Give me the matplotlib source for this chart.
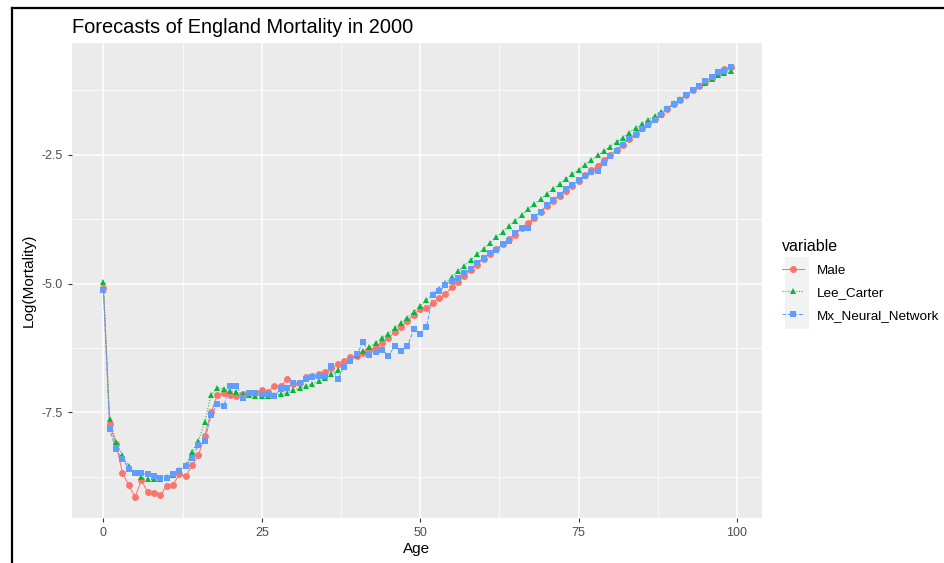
import numpy as np
import matplotlib
matplotlib.use('Agg')
import matplotlib.pyplot as plt
from matplotlib.lines import Line2D
from matplotlib.patches import Rectangle

plt.rcParams['font.family'] = ['Liberation Sans', 'DejaVu Sans']

# 나이 0~99
ages = np.arange(0, 100)

male = [
    -5.08, -7.73, -8.12, -8.67, -8.91, -9.14, -8.82, -9.05, -9.06, -9.11,
    -8.92, -8.90, -8.70, -8.74, -8.53, -8.33, -7.95, -7.50, -7.16, -7.12,
    -7.16, -7.18, -7.15, -7.13, -7.12, -7.07, -7.10, -6.98, -6.99, -6.86,
    -6.95, -6.93, -6.82, -6.80, -6.76, -6.72, -6.64, -6.56, -6.50, -6.42,
    -6.40, -6.34, -6.29, -6.23, -6.15, -6.05, -5.94, -5.84, -5.73, -5.60,
    -5.49, -5.47, -5.37, -5.28, -5.21, -5.06, -4.96, -4.86, -4.73, -4.63,
    -4.52, -4.42, -4.33, -4.24, -4.13, -4.05, -3.93, -3.82, -3.72, -3.61,
    -3.50, -3.40, -3.30, -3.20, -3.10, -3.00, -2.90, -2.80, -2.72, -2.60,
    -2.50, -2.40, -2.30, -2.19, -2.09, -1.98, -1.89, -1.80, -1.71, -1.61,
    -1.51, -1.43, -1.34, -1.25, -1.17, -1.08, -1.00, -0.92, -0.83, -0.79,
]

lee_carter = [
    -4.97, -7.63, -8.07, -8.33, -8.55, -8.68, -8.75, -8.80, -8.80, -8.80,
    -8.76, -8.72, -8.62, -8.52, -8.27, -8.05, -7.68, -7.16, -7.02, -7.05,
    -7.08, -7.11, -7.14, -7.17, -7.18, -7.18, -7.18, -7.17, -7.14, -7.12,
    -7.07, -7.03, -6.99, -6.94, -6.89, -6.83, -6.76, -6.68, -6.59, -6.49,
    -6.39, -6.31, -6.23, -6.15, -6.06, -5.97, -5.87, -5.77, -5.66, -5.55,
    -5.44, -5.32, -5.21, -5.10, -4.99, -4.87, -4.76, -4.65, -4.54, -4.43,
    -4.32, -4.21, -4.10, -4.00, -3.89, -3.78, -3.67, -3.56, -3.46, -3.36,
    -3.26, -3.16, -3.06, -2.97, -2.88, -2.79, -2.69, -2.61, -2.51, -2.43,
    -2.34, -2.25, -2.17, -2.07, -1.98, -1.91, -1.82, -1.75, -1.66, -1.59,
    -1.50, -1.42, -1.34, -1.25, -1.17, -1.10, -1.02, -0.96, -0.92, -0.88,
]

neural_net = [
    -5.12, -7.83, -8.22, -8.40, -8.59, -8.67, -8.68, -8.70, -8.74, -8.78,
    -8.78, -8.70, -8.64, -8.55, -8.38, -8.14, -8.05, -7.55, -7.34, -7.37,
    -6.98, -6.98, -7.22, -7.12, -7.12, -7.15, -7.15, -7.18, -7.04, -7.03,
    -6.93, -6.92, -6.86, -6.82, -6.80, -6.79, -6.60, -6.86, -6.61, -6.50,
    -6.37, -6.14, -6.38, -6.33, -6.28, -6.40, -6.21, -6.31, -6.21, -5.89,
    -5.97, -5.84, -5.23, -5.15, -5.03, -4.94, -4.89, -4.80, -4.71, -4.60,
    -4.50, -4.40, -4.35, -4.24, -4.17, -4.02, -3.93, -3.92, -3.71, -3.61,
    -3.48, -3.38, -3.28, -3.16, -3.08, -2.99, -2.91, -2.83, -2.81, -2.66,
    -2.53, -2.42, -2.30, -2.19, -2.11, -2.00, -1.93, -1.83, -1.73, -1.61,
    -1.51, -1.43, -1.34, -1.25, -1.17, -1.07, -0.98, -0.90, -0.87, -0.80,
]

series_names = ['Male', 'Lee_Carter', 'Mx_Neural_Network']
series = [male, lee_carter, neural_net]
colors = ['#F8766D', '#00BA38', '#619CFF']
styles = ['-', ':', '--']
markers = ['o', '^', 's']

fig = plt.figure(figsize=(9.45, 5.63), dpi=100)
ax = fig.add_axes([0.0762, 0.0799, 0.7301, 0.8437])

# ggplot 회색 테마 흉내
ax.set_facecolor('#EBEBEB')
for s in ax.spines.values():
    s.set_visible(False)
ax.set_xlim(-4.95, 103.95)
ax.set_ylim(-9.55, -0.33)
ax.set_xticks([0, 25, 50, 75, 100])
ax.set_yticks([-7.5, -5.0, -2.5])
ax.set_yticklabels(['-7.5', '-5.0', '-2.5'])
ax.set_xticks([12.5, 37.5, 62.5, 87.5], minor=True)
ax.set_yticks([-8.75, -6.25, -3.75, -1.25], minor=True)
ax.grid(which='major', color='white', linewidth=1.1)
ax.grid(which='minor', color='white', linewidth=0.55)
ax.set_axisbelow(True)
ax.tick_params(which='major', length=3, color='#333333', labelcolor='#4D4D4D', labelsize=9)
ax.tick_params(which='minor', length=0)

# 선 먼저, 점은 나중에
for vals, c, ls in zip(series, colors, styles):
    ax.plot(ages, vals, color=c, linestyle=ls, linewidth=0.75, zorder=2)
for vals, c, m in zip(series, colors, markers):
    ax.plot(ages, vals, color=c, linestyle='none', marker=m, markersize=5,
            markeredgewidth=0, zorder=3)

ax.set_xlabel('Age', fontsize=11, color='black', labelpad=2)
ax.set_ylabel('Log(Mortality)', fontsize=11, color='black', labelpad=4)
fig.text(0.0762, 0.942, 'Forecasts of England Mortality in 2000', fontsize=14.4,
         color='black', va='baseline', ha='left')

# 범례
handles = [Line2D([0], [0], color=c, linestyle=ls, marker=m, markersize=5,
                  markeredgewidth=0, linewidth=0.75)
           for c, ls, m in zip(colors, styles, markers)]
fig.patches.append(Rectangle((785 / 945, 1 - 329 / 563), 24 / 945, 72 / 563,
                             transform=fig.transFigure, facecolor='#F2F2F2',
                             edgecolor='none', zorder=0))
leg = fig.legend(handles, series_names, title='variable', loc='upper left',
                 bbox_to_anchor=(770 / 945, 1 - 227 / 563), frameon=False,
                 fontsize=9.7, title_fontsize=11.5, handlelength=1.6,
                 handletextpad=1.0, labelspacing=0.75, alignment='left')

# 스크린샷 테두리
fig.add_artist(Line2D([12 / 945, 12 / 945], [0, 1 - 8 / 563], color='black',
                      linewidth=1.6, transform=fig.transFigure))
fig.add_artist(Line2D([12 / 945, 1], [1 - 8 / 563, 1 - 8 / 563], color='black',
                      linewidth=1.6, transform=fig.transFigure))

fig.savefig('out.png', dpi=100)
